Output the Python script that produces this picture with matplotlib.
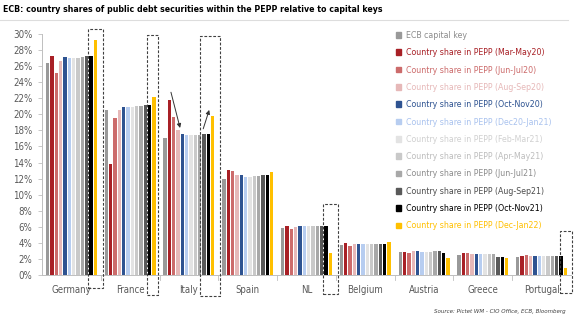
import numpy as np
import matplotlib
matplotlib.use("Agg")
from matplotlib import pyplot as plt
from matplotlib.patches import Rectangle, Patch
from matplotlib.lines import Line2D

plt.rcParams['font.family'] = ['DejaVu Sans']
plt.rcParams['font.stretch'] = 'condensed'

countries = ["Germany", "France", "Italy", "Spain", "NL",
             "Belgium", "Austria", "Greece", "Portugal"]

series_labels = [
    "ECB capital key",
    "Country share in PEPP (Mar-May20)",
    "Country share in PEPP (Jun-Jul20)",
    "Country share in PEPP (Aug-Sep20)",
    "Country share in PEPP (Oct-Nov20)",
    "Country share in PEPP (Dec20-Jan21)",
    "Country share in PEPP (Feb-Mar21)",
    "Country share in PEPP (Apr-May21)",
    "Country share in PEPP (Jun-Jul21)",
    "Country share in PEPP (Aug-Sep21)",
    "Country share in PEPP (Oct-Nov21)",
    "Country share in PEPP (Dec-Jan22)",
]

series_colors = ["#999999", "#a82026", "#cc6b6b", "#e6b8b8", "#2e5391",
                 "#b7cdf0", "#e3e3e3", "#c9c9c9", "#a8a8a8", "#595959",
                 "#000000", "#ffc000"]

legend_text_colors = ["#8c8c8c", "#a82026", "#cc6b6b", "#e6b8b8", "#2e5391",
                      "#a9c2ee", "#d0d0d0", "#bdbdbd", "#8c8c8c", "#4d4d4d",
                      "#000000", "#ffc000"]

# shares in % per country, one row per series
ecb_key   = [26.4, 20.5, 17.1, 12.0, 5.9, 3.7, 2.9, 2.5, 2.3]
mar_may20 = [27.2, 13.8, 21.8, 13.1, 6.1, 3.95, 2.85, 2.7, 2.4]
jun_jul20 = [25.2, 19.6, 19.7, 13.0, 5.7, 3.6, 2.8, 2.8, 2.55]
aug_sep20 = [26.6, 20.6, 18.1, 12.45, 6.0, 3.8, 2.95, 2.6, 2.35]
oct_nov20 = [27.1, 20.95, 17.5, 12.4, 6.1, 3.8, 2.95, 2.6, 2.35]
dec_jan21 = [27.0, 20.9, 17.4, 12.25, 6.1, 3.8, 2.9, 2.6, 2.35]
feb_mar21 = [27.0, 20.9, 17.4, 12.25, 6.1, 3.8, 2.9, 2.6, 2.35]
apr_may21 = [27.05, 21.0, 17.4, 12.3, 6.1, 3.8, 2.9, 2.6, 2.35]
jun_jul21 = [27.1, 21.0, 17.4, 12.35, 6.1, 3.85, 2.95, 2.6, 2.35]
aug_sep21 = [27.2, 21.1, 17.6, 12.4, 6.15, 3.85, 2.95, 2.3, 2.35]
oct_nov21 = [27.3, 21.2, 17.6, 12.4, 6.15, 3.85, 2.8, 2.3, 2.35]
dec_jan22 = [29.2, 22.2, 19.8, 12.8, 2.8, 4.05, 2.15, 2.15, 0.85]

series = [ecb_key, mar_may20, jun_jul20, aug_sep20, oct_nov20, dec_jan21,
          feb_mar21, apr_may21, jun_jul21, aug_sep21, oct_nov21, dec_jan22]

# dashed highlight boxes: country, first bar, last bar, pad left, pad right, top, bottom
boxes = [
    (0, 10, 11, 0.017, 0.107, 30.6, -1.6),
    (1, 10, 11, 0.024, 0.034, 29.9, -2.5),
    (2, 9, 11, 0.044, 0.092, 29.8, -2.6),
    (4, 10, 11, 0.030, 0.095, 8.9, -2.4),
    (8, 10, 11, -0.010, 0.090, 5.5, -2.2),
]

fig = plt.figure(figsize=(5.8, 3.23), dpi=100)
ax = fig.add_axes([42/580, 1 - 275/323, 529/580, 241/323])

x = np.arange(len(countries))
nser = len(series)
slot = 0.0737
width = 0.058
offsets = (np.arange(nser) - (nser - 1) / 2) * slot

for j, vals in enumerate(series):
    ax.bar(x + offsets[j], vals, width=width, color=series_colors[j],
           label=series_labels[j], zorder=2)

ax.set_xlim(-0.5, len(countries) - 0.5)
ax.set_ylim(0, 30)
ax.set_yticks(np.arange(0, 31, 2))
ax.set_yticklabels([f"{v}%" for v in range(0, 31, 2)])

ax.set_xticks(x)
ax.set_xticklabels(countries)
ax.tick_params(axis='x', length=0, pad=7, labelsize=6.9, labelcolor="#595959")
ax.tick_params(axis='y', length=3, width=0.6, color="#bfbfbf", pad=4,
               labelsize=6.9, labelcolor="#595959")
# small separators between country groups
for b in np.arange(0.5, len(countries) - 1, 1.0):
    ax.plot([b, b], [0, -0.6], color="#bfbfbf", lw=0.6, clip_on=False)

for s in ["top", "right"]:
    ax.spines[s].set_visible(False)
for s in ["left", "bottom"]:
    ax.spines[s].set_color("#bfbfbf")
    ax.spines[s].set_linewidth(0.7)

for ci, b0, b1, pl, pr, top, bot in boxes:
    left = x[ci] + offsets[b0] - width / 2 - pl
    right = x[ci] + offsets[b1] + width / 2 + pr
    ax.add_patch(Rectangle((left, bot), right - left, top - bot, fill=False,
                           ls=(0, (2.5, 1.5)), lw=0.8, ec="#404040",
                           clip_on=False, zorder=3))

# arrows on Italy
ax.annotate("", xy=(x[2] + offsets[4] - 0.04, oct_nov20[2] + 0.8),
            xytext=(1.694, 22.75),
            arrowprops=dict(arrowstyle="-|>", color="#333333", lw=0.7,
                            mutation_scale=6, shrinkA=0, shrinkB=0))
ax.annotate("", xy=(2.345, 20.55),
            xytext=(x[2] + offsets[9] - 0.015, aug_sep21[2] + 0.6),
            arrowprops=dict(arrowstyle="-|>", color="#333333", lw=0.7,
                            mutation_scale=6, shrinkA=0, shrinkB=0))

handles = [Patch(color=c) for c in series_colors]
leg = fig.legend(handles, series_labels, loc="upper left",
                 bbox_to_anchor=(396/580, 1 - 31/323), frameon=False,
                 fontsize=6.3, handlelength=0.6, handleheight=0.6,
                 handletextpad=0.6, labelspacing=0.95, borderpad=0,
                 borderaxespad=0)
for t, c in zip(leg.get_texts(), legend_text_colors):
    t.set_color(c)

fig.text(3/580, 1 - 9/323,
         "ECB: country shares of public debt securities within the PEPP relative to capital keys",
         fontsize=6.3, fontweight="bold", color="#000000", va="center", ha="left")
fig.add_artist(Line2D([0, 568/580], [1 - 20/323, 1 - 20/323],
                      color="#dddddd", lw=0.8, transform=fig.transFigure))

fig.text(566/580, 1 - 311/323, "Source: Pictet WM - CIO Office, ECB, Bloomberg",
         fontsize=4.4, style="italic", color="#404040", ha="right", va="center")

fig.savefig("out.png", dpi=100)
